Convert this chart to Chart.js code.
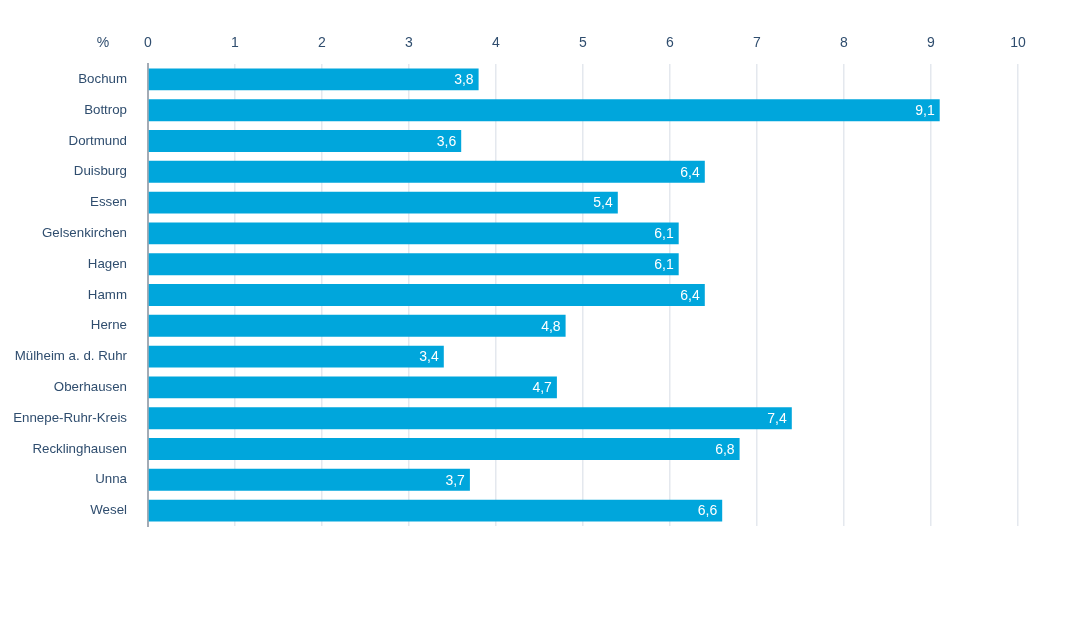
<!DOCTYPE html>
<html><head><meta charset="utf-8">
<script src="https://cdn.jsdelivr.net/npm/chart.js@4/dist/chart.umd.min.js"></script>
<style>html,body{margin:0;padding:0;background:#fff}</style>
</head><body><canvas id="c" width="1080" height="632" style="width:1080px;height:632px;display:block"></canvas>
<script>
const categories = ["Bochum","Bottrop","Dortmund","Duisburg","Essen","Gelsenkirchen","Hagen","Hamm","Herne","Mülheim a. d. Ruhr","Oberhausen","Ennepe-Ruhr-Kreis","Recklinghausen","Unna","Wesel"];
const values = [3.8,9.1,3.6,6.4,5.4,6.1,6.1,6.4,4.8,3.4,4.7,7.4,6.8,3.7,6.6];
const unitLabel = "%";
const xMin = 0, xMax = 10, xStep = 1;

const FONT = "'Liberation Sans', Arial, sans-serif";
const TEXT = "#2f4d6e";
const BAR = "#00a6dc";

const labelsPlugin = {
  id: 'valLabels',
  afterDatasetsDraw(chart) {
    const ctx = chart.ctx;
    const meta = chart.getDatasetMeta(0);
    ctx.save();
    ctx.font = "14px " + FONT;
    ctx.fillStyle = "#ffffff";
    ctx.textAlign = "right";
    ctx.textBaseline = "middle";
    meta.data.forEach((bar, i) => {
      ctx.fillText(values[i].toFixed(1).replace('.', ','), bar.x - 5, bar.y + 1);
    });
    ctx.fillStyle = TEXT;
    ctx.textAlign = "center";
    ctx.fillText(unitLabel, 103, 43);
    ctx.restore();
  }
};

new Chart(document.getElementById('c'), {
  type: 'bar',
  data: {
    labels: categories,
    datasets: [{
      data: values,
      backgroundColor: BAR,
      borderWidth: 0,
      barPercentage: 0.9,
      categoryPercentage: 0.79
    }]
  },
  options: {
    indexAxis: 'y',
    responsive: false,
    animation: false,
    devicePixelRatio: 1,
    layout: { padding: { left: 0, right: 62, top: 0, bottom: 106 } },
    plugins: { legend: { display: false }, tooltip: { enabled: false } },
    scales: {
      x: {
        position: 'top',
        min: xMin, max: xMax,
        ticks: { stepSize: xStep, color: TEXT, font: { family: FONT, size: 14 }, padding: 12 },
        grid: { color: "#e4e8ee", lineWidth: 1.5, drawTicks: false },
        border: { display: false },
        afterFit(s) { s.height = 64; }
      },
      y: {
        ticks: { color: TEXT, font: { family: FONT, size: 13.3 }, padding: 21, autoSkip: false },
        grid: { display: false, drawTicks: false },
        border: { display: true, color: "#a3abb5", width: 2 },
        afterFit(s) { s.width = 148; }
      }
    }
  },
  plugins: [labelsPlugin]
});
</script>
</body></html>
